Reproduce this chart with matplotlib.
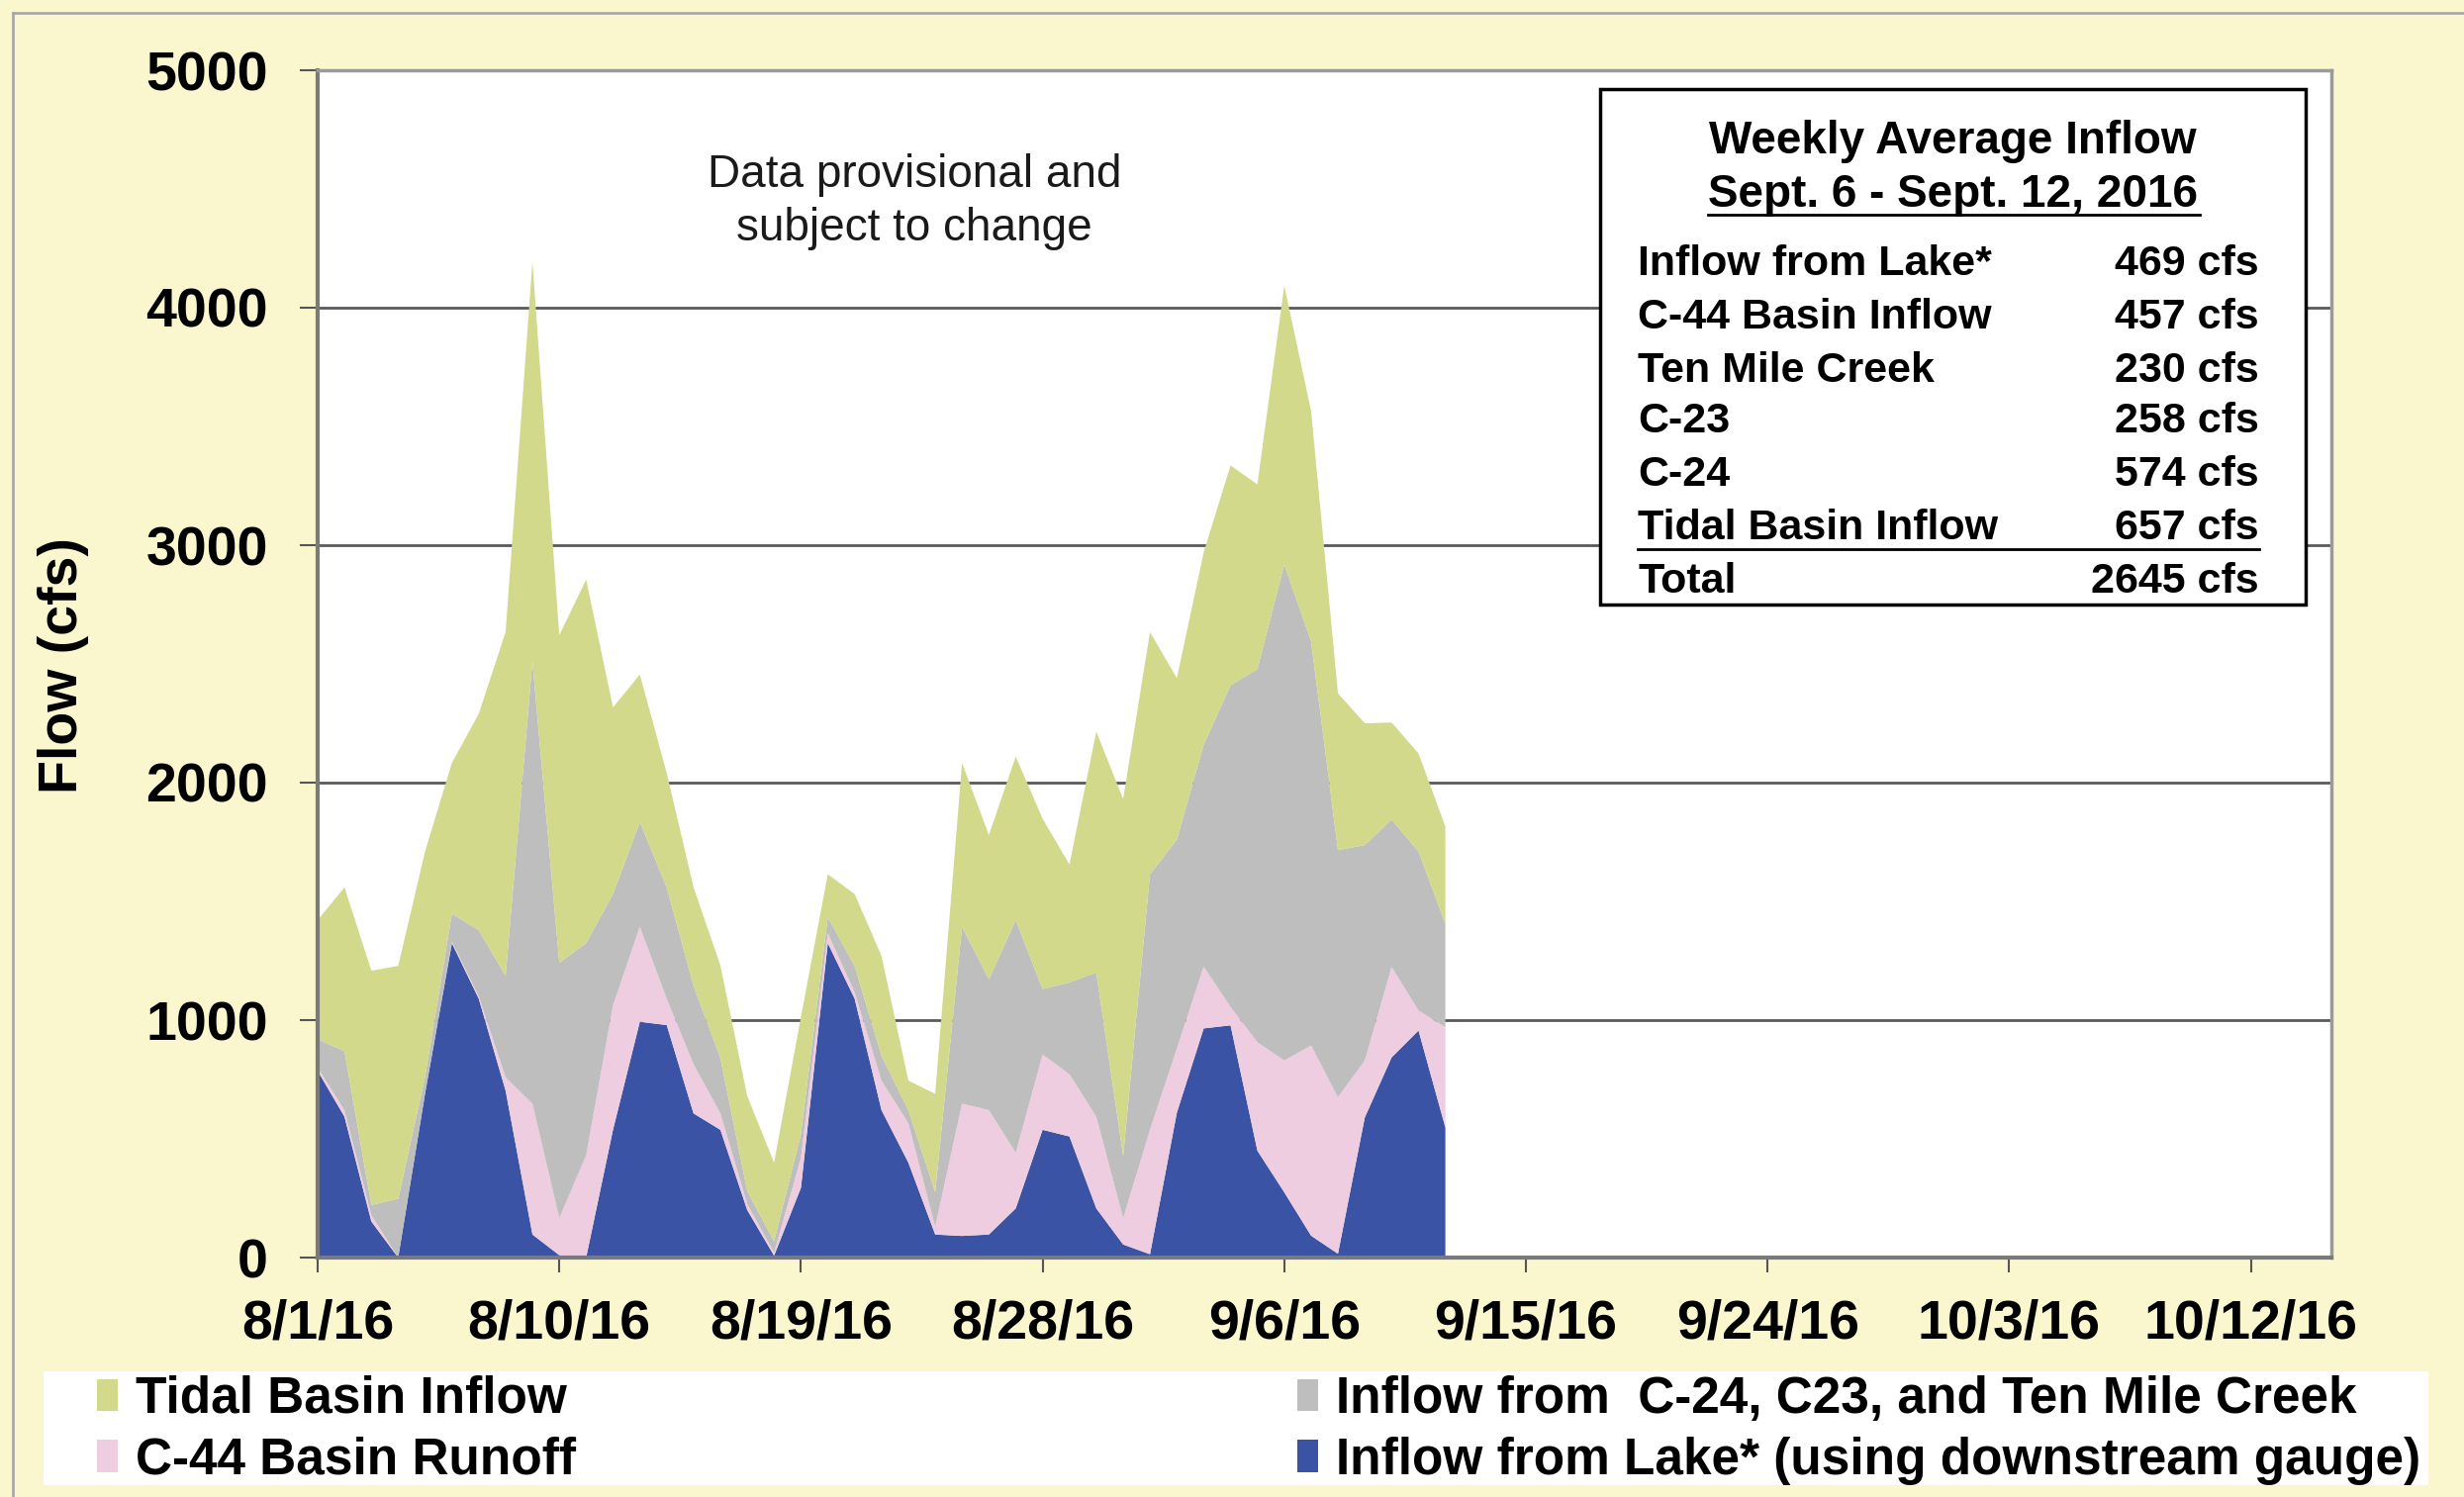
import numpy as np
import matplotlib
matplotlib.use("Agg")
import matplotlib.pyplot as plt
import matplotlib.dates as mdates
from matplotlib.patches import Rectangle, Patch
from matplotlib.lines import Line2D
import datetime as dt

plt.rcParams['font.family'] = ['Liberation Sans', 'DejaVu Sans']

# ---------------- data ----------------
start_date = "2016-08-01"
end_date = "2016-09-13"   # exclusive -> 43 daily values through 9/12/16

lake = [786, 593, 152, 0, 690, 1324, 1090, 703, 97, 10, 0, 538, 993, 979, 607,
        538, 200, 8, 294, 1324, 1090, 621, 400, 97, 91, 97, 207, 538, 510, 207,
        55, 14, 610, 965, 978, 450, 275, 92, 16, 590, 843, 956, 548]
c44 = [14, 27, 27, 0, 0, 6, 10, 56, 551, 156, 430, 524, 400, 111, 207,
       69, 25, 12, 126, 42, 27, 124, 166, 33, 557, 524, 234, 317, 262, 386,
       111, 524, 270, 260, 77, 457, 555, 801, 659, 240, 381, 84, 422]
c24_c23_tenmile = [119, 249, 42, 248, 70, 118, 279, 427, 1862, 1075, 894, 469, 441, 469, 331,
                   234, 55, 49, 100, 68, 111, 105, 55, 146, 745, 551, 980, 276, 387, 607,
                   262, 1076, 880, 935, 1355, 1571, 2088, 1702, 1041, 907, 621, 670, 436]
tidal = [502, 690, 987, 980, 950, 635, 911, 1448, 1683, 1380, 1531, 786, 621, 482, 414,
         389, 400, 331, 494, 180, 303, 420, 124, 414, 690, 607, 689, 717, 496, 1015,
         1503, 1020, 680, 810, 926, 778, 1175, 970, 660, 513, 408, 413, 409]

series_labels = ["Inflow from Lake* (using downstream gauge)", "C-44 Basin Runoff",
                 "Inflow from  C-24, C23, and Ten Mile Creek", "Tidal Basin Inflow"]
series_colors = ["#3A53A5", "#EECDE0", "#BEBEBE", "#D3D98A"]

y_ticks = [0, 1000, 2000, 3000, 4000, 5000]

box_title = ["Weekly Average Inflow", "Sept. 6 - Sept. 12, 2016"]
box_labels = ["Inflow from Lake*", "C-44 Basin Inflow", "Ten Mile Creek", "C-23", "C-24",
              "Tidal Basin Inflow", "Total"]
box_values = ["469 cfs", "457 cfs", "230 cfs", "258 cfs", "574 cfs", "657 cfs", "2645 cfs"]

# ---------------- figure ----------------
W, H = 2490, 1513
fig = plt.figure(figsize=(W / 100, H / 100), dpi=100)
fig.patch.set_facecolor("#FAF7CE")

def fx(px):
    return px / W

def fy(py):
    return 1 - py / H

# outer border (left and top)
fig.add_artist(Line2D([fx(13), fx(13)], [0, fy(13)], color="#A8A8A8", lw=2, transform=fig.transFigure))
fig.add_artist(Line2D([fx(13), 1], [fy(13), fy(13)], color="#A8A8A8", lw=2, transform=fig.transFigure))

ax = fig.add_axes([fx(321), fy(1271), fx(2356) - fx(321), fy(71) - fy(1271)])
ax.set_facecolor("white")

dates = np.arange(start_date, end_date, dtype="datetime64[D]").astype(dt.datetime)
ax.stackplot(dates, lake, c44, c24_c23_tenmile, tidal, colors=series_colors,
             linewidth=0, zorder=2)

ax.set_xlim(dt.datetime(2016, 8, 1), dt.datetime(2016, 10, 15))
ax.set_ylim(0, 5000)
ax.set_yticks(y_ticks)
xt = np.arange("2016-08-01", "2016-10-16", 9, dtype="datetime64[D]").astype(dt.datetime)
ax.set_xticks(xt)
ax.xaxis.set_major_formatter(plt.FuncFormatter(
    lambda v, p: (lambda d: f"{d.month}/{d.day}/{d.strftime('%y')}")(mdates.num2date(v))))

ax.set_axisbelow(True)
ax.yaxis.grid(True, color="#5A5A5A", lw=2.0, zorder=0)
ax.xaxis.grid(False)

for s in ["left", "bottom"]:
    ax.spines[s].set_color("#7A7A7A")
    ax.spines[s].set_linewidth(3)
for s in ["top", "right"]:
    ax.spines[s].set_color("#9A9A9A")
    ax.spines[s].set_linewidth(2.5)

ax.tick_params(axis="y", direction="out", length=13, width=1.5, color="#555555", pad=23,
               labelsize=40)
ax.tick_params(axis="x", direction="out", length=11, width=1.5, color="#555555", pad=19,
               labelsize=40)
for lab in ax.get_xticklabels() + ax.get_yticklabels():
    lab.set_fontweight("bold")

fig.text(fx(64), fy(673), "Flow (cfs)", rotation=90, ha="center", va="center",
         fontsize=40, fontweight="bold")

# annotation
fig.text(fx(924), fy(204), "Data provisional and\nsubject to change", ha="center", va="center",
         fontsize=33, linespacing=1.3, color="#1A1A1A")

# weekly average box
fig.add_artist(Rectangle((fx(1617), fy(611)), fx(2330) - fx(1617), fy(90) - fy(611),
                         transform=fig.transFigure, facecolor="white", edgecolor="black", lw=2.5))
fig.text(fx(1973), fy(143), box_title[0], ha="center", va="center", fontsize=33, fontweight="bold")
fig.text(fx(1973), fy(197), box_title[1], ha="center", va="center", fontsize=33, fontweight="bold")
fig.add_artist(Line2D([fx(1726), fx(2223)], [fy(217), fy(217)], color="black", lw=2,
                      transform=fig.transFigure))
row_y = [267, 321, 375, 426, 480, 534, 588]
for yy, lab, val in zip(row_y, box_labels, box_values):
    fig.text(fx(1655), fy(yy), lab, ha="left", va="center", fontsize=31, fontweight="bold")
    fig.text(fx(2283), fy(yy), val, ha="right", va="center", fontsize=31, fontweight="bold")
fig.add_artist(Line2D([fx(1655), fx(2283)], [fy(555), fy(555)], color="black", lw=2,
                      transform=fig.transFigure))

# legend
fig.add_artist(Rectangle((fx(44), fy(1501)), fx(2454) - fx(44), fy(1386) - fy(1501),
                         transform=fig.transFigure, facecolor="white", edgecolor="none"))
order = [3, 1, 2, 0]
handles = [Patch(facecolor=series_colors[i], edgecolor="none") for i in order]
labels = [series_labels[i] for i in order]
leg = fig.legend(handles, labels, loc="upper left", bbox_to_anchor=(fx(98), fy(1390)),
                 bbox_transform=fig.transFigure, ncol=2, frameon=False, borderpad=0,
                 borderaxespad=0, handlelength=0.4, handleheight=0.6, handletextpad=0.35,
                 columnspacing=14.2, labelspacing=0.25,
                 prop={"family": "Liberation Sans", "weight": "bold", "size": 37})

fig.savefig("out.png", dpi=100, facecolor=fig.get_facecolor())
